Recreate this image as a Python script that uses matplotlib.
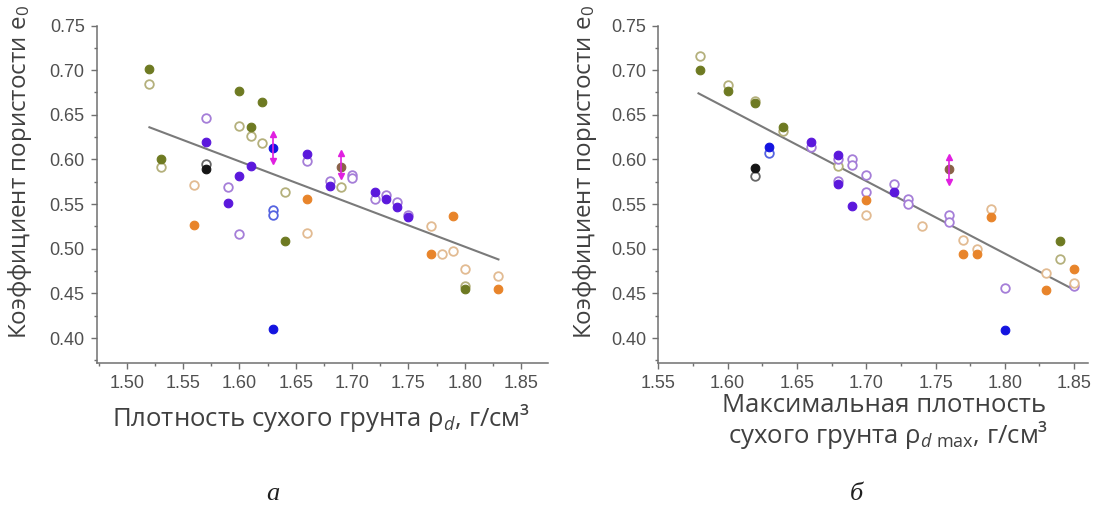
import matplotlib
matplotlib.use("Agg")
import matplotlib.pyplot as plt
from matplotlib.ticker import MultipleLocator, FormatStrFormatter

plt.rcParams['mathtext.fontset'] = 'custom'
plt.rcParams['mathtext.rm'] = 'Open Sans'
plt.rcParams['mathtext.it'] = 'Open Sans:italic'

# ---- panel a: dry density rho_d vs void ratio e0 ----
a_olive_f_x = [1.52, 1.53, 1.60, 1.61, 1.62, 1.64, 1.80]
a_olive_f_y = [0.701, 0.600, 0.677, 0.636, 0.664, 0.509, 0.455]
a_olive_o_x = [1.52, 1.53, 1.60, 1.61, 1.62, 1.64, 1.69, 1.80]
a_olive_o_y = [0.685, 0.592, 0.637, 0.626, 0.618, 0.564, 0.569, 0.458]
a_purple_f_x = [1.57, 1.59, 1.60, 1.61, 1.66, 1.68, 1.72, 1.73, 1.74, 1.75]
a_purple_f_y = [0.620, 0.551, 0.581, 0.593, 0.606, 0.570, 0.5635, 0.5555, 0.547, 0.535]
a_purple_o_x = [1.57, 1.59, 1.60, 1.66, 1.68, 1.70, 1.70, 1.72, 1.73, 1.74, 1.75]
a_purple_o_y = [0.646, 0.569, 0.516, 0.598, 0.576, 0.583, 0.579, 0.556, 0.560, 0.552, 0.538]
a_blue_f_x = [1.63, 1.63]
a_blue_f_y = [0.613, 0.410]
a_blue_o_x = [1.63, 1.63]
a_blue_o_y = [0.543, 0.538]
a_orange_f_x = [1.56, 1.66, 1.77, 1.79, 1.83]
a_orange_f_y = [0.527, 0.556, 0.494, 0.537, 0.455]
a_orange_o_x = [1.56, 1.66, 1.77, 1.78, 1.79, 1.80, 1.83]
a_orange_o_y = [0.571, 0.518, 0.526, 0.494, 0.498, 0.477, 0.470]
a_black_f_x = [1.57]
a_black_f_y = [0.589]
a_black_o_x = [1.57]
a_black_o_y = [0.595]
a_brown_x = [1.69]
a_brown_y = [0.592]
a_err_x = [1.63, 1.69]
a_err_y = [0.613, 0.594]
a_err_half = [0.015, 0.013]
a_trend_x = [1.52, 1.83]
a_trend_y = [0.636, 0.488]

# ---- panel b: maximum dry density rho_d max vs void ratio e0 ----
b_olive_f_x = [1.58, 1.60, 1.62, 1.64, 1.84]
b_olive_f_y = [0.700, 0.677, 0.663, 0.636, 0.509]
b_olive_o_x = [1.58, 1.60, 1.62, 1.64, 1.68, 1.84]
b_olive_o_y = [0.716, 0.683, 0.665, 0.632, 0.593, 0.488]
b_purple_f_x = [1.66, 1.68, 1.68, 1.69, 1.72]
b_purple_f_y = [0.620, 0.6055, 0.572, 0.548, 0.5635]
b_purple_o_x = [1.66, 1.68, 1.68, 1.69, 1.69, 1.70, 1.70, 1.72, 1.73, 1.73, 1.76, 1.76, 1.80, 1.85]
b_purple_o_y = [0.614, 0.600, 0.576, 0.600, 0.594, 0.583, 0.564, 0.573, 0.5555, 0.550, 0.5375, 0.530, 0.4555, 0.458]
b_blue_f_x = [1.63, 1.80]
b_blue_f_y = [0.614, 0.409]
b_blue_o_x = [1.63]
b_blue_o_y = [0.607]
b_orange_f_x = [1.70, 1.77, 1.78, 1.79, 1.83, 1.85]
b_orange_f_y = [0.555, 0.494, 0.494, 0.536, 0.454, 0.477]
b_orange_o_x = [1.70, 1.74, 1.77, 1.78, 1.79, 1.83, 1.85]
b_orange_o_y = [0.5375, 0.526, 0.510, 0.500, 0.544, 0.473, 0.462]
b_black_f_x = [1.62]
b_black_f_y = [0.590]
b_black_o_x = [1.62]
b_black_o_y = [0.581]
b_brown_x = [1.76]
b_brown_y = [0.589]
b_err_x = [1.76]
b_err_y = [0.589]
b_err_half = [0.014]
b_trend_x = [1.579, 1.85]
b_trend_y = [0.674, 0.454]

OLIVE_F, OLIVE_O = '#6e7a22', '#b4b07c'
PURPLE_F, PURPLE_O = '#5b18dc', '#a57ed8'
BLUE_F, BLUE_O = '#1414e0', '#5563e0'
ORANGE_F, ORANGE_O = '#e8842a', '#e2bb92'
BLACK_F, BLACK_O = '#151515', '#666666'
BROWN = '#8a6248'
MAGENTA = '#e020e0'
AXIS = '#707070'
TICKTXT = '#505050'

MS = 6.2


def filled(ax, x, y, c):
    ax.plot(x, y, 'o', ls='none', ms=MS, mfc=c, mec=c, mew=0.8, zorder=4)


def hollow(ax, x, y, c):
    ax.plot(x, y, 'o', ls='none', ms=MS, mfc='white', mec=c, mew=1.3, zorder=3)


def errbars(ax, x, y, h):
    lo = [v - d for v, d in zip(y, h)]
    hi = [v + d for v, d in zip(y, h)]
    ax.vlines(x, lo, hi, colors=MAGENTA, lw=1.2, zorder=5)
    ax.plot(x, hi, '^', ls='none', ms=4, color=MAGENTA, zorder=5)
    ax.plot(x, lo, 'v', ls='none', ms=4, color=MAGENTA, zorder=5)


def style(ax, xlim, xmaj):
    ax.set_xlim(*xlim)
    ax.set_ylim(0.372, 0.75)
    for s in ('top', 'right'):
        ax.spines[s].set_visible(False)
    for s in ('left', 'bottom'):
        ax.spines[s].set_color(AXIS)
        ax.spines[s].set_linewidth(1.1)
    ax.xaxis.set_minor_locator(MultipleLocator(0.025))
    ax.yaxis.set_minor_locator(MultipleLocator(0.025))
    ax.set_xticks(xmaj)
    ax.set_yticks([0.40, 0.45, 0.50, 0.55, 0.60, 0.65, 0.70, 0.75])
    ax.xaxis.set_major_formatter(FormatStrFormatter('%.2f'))
    ax.yaxis.set_major_formatter(FormatStrFormatter('%.2f'))
    ax.tick_params(which='major', direction='out', length=4.5, width=1.0,
                   color=AXIS, labelsize=13, labelcolor=TICKTXT, pad=4)
    ax.tick_params(which='minor', direction='out', length=2.5, width=1.0, color=AXIS)
    for lab in ax.get_xticklabels() + ax.get_yticklabels():
        lab.set_fontfamily('Liberation Sans')


def draw(ax, d):
    ax.plot(d['tx'], d['ty'], color='#7a7a7a', lw=1.5, zorder=2)
    for key, col, fn in [('olive_o', OLIVE_O, hollow), ('purple_o', PURPLE_O, hollow),
                         ('blue_o', BLUE_O, hollow), ('orange_o', ORANGE_O, hollow),
                         ('black_o', BLACK_O, hollow), ('olive_f', OLIVE_F, filled),
                         ('purple_f', PURPLE_F, filled), ('blue_f', BLUE_F, filled),
                         ('orange_f', ORANGE_F, filled), ('black_f', BLACK_F, filled),
                         ('brown', BROWN, filled)]:
        x, y = d[key]
        fn(ax, x, y, col)
    errbars(ax, *d['err'])


fig = plt.figure(figsize=(11.02, 5.11), dpi=100)
W, H = 1102, 511
ax1 = fig.add_axes([96.5 / W, 1 - 363 / H, (548 - 96.5) / W, (363 - 25.5) / H])
ax2 = fig.add_axes([658.3 / W, 1 - 363 / H, (1088 - 658.3) / W, (363 - 25.5) / H])

panel_a = {
    'tx': a_trend_x, 'ty': a_trend_y,
    'olive_f': (a_olive_f_x, a_olive_f_y), 'olive_o': (a_olive_o_x, a_olive_o_y),
    'purple_f': (a_purple_f_x, a_purple_f_y), 'purple_o': (a_purple_o_x, a_purple_o_y),
    'blue_f': (a_blue_f_x, a_blue_f_y), 'blue_o': (a_blue_o_x, a_blue_o_y),
    'orange_f': (a_orange_f_x, a_orange_f_y), 'orange_o': (a_orange_o_x, a_orange_o_y),
    'black_f': (a_black_f_x, a_black_f_y), 'black_o': (a_black_o_x, a_black_o_y),
    'brown': (a_brown_x, a_brown_y), 'err': (a_err_x, a_err_y, a_err_half),
}
panel_b = {
    'tx': b_trend_x, 'ty': b_trend_y,
    'olive_f': (b_olive_f_x, b_olive_f_y), 'olive_o': (b_olive_o_x, b_olive_o_y),
    'purple_f': (b_purple_f_x, b_purple_f_y), 'purple_o': (b_purple_o_x, b_purple_o_y),
    'blue_f': (b_blue_f_x, b_blue_f_y), 'blue_o': (b_blue_o_x, b_blue_o_y),
    'orange_f': (b_orange_f_x, b_orange_f_y), 'orange_o': (b_orange_o_x, b_orange_o_y),
    'black_f': (b_black_f_x, b_black_f_y), 'black_o': (b_black_o_x, b_black_o_y),
    'brown': (b_brown_x, b_brown_y), 'err': (b_err_x, b_err_y, b_err_half),
}

draw(ax1, panel_a)
draw(ax2, panel_b)
style(ax1, (1.473, 1.874), [1.50, 1.55, 1.60, 1.65, 1.70, 1.75, 1.80, 1.85])
style(ax2, (1.55, 1.86), [1.55, 1.60, 1.65, 1.70, 1.75, 1.80, 1.85])

YL = dict(fontfamily='Open Sans', fontsize=17.4, color='#404040')
XL = dict(fontfamily='Open Sans', fontsize=18.5, color='#404040')
ylab = 'Коэффициент пористости $\\mathrm{e}_0$'
fig.text(20 / W, 1 - 172 / H, ylab, rotation=90, ha='center', va='center', **YL)
fig.text(585 / W, 1 - 172 / H, ylab, rotation=90, ha='center', va='center', **YL)

fig.text(321 / W, 1 - 418 / H, 'Плотность сухого грунта $\\mathrm{\\rho}_{\\mathit{d}}$, г/см³',
         ha='center', va='center', **XL)
fig.text(884 / W, 1 - 406 / H, 'Максимальная плотность', ha='center', va='center', **XL)
fig.text(888 / W, 1 - 435 / H, 'сухого грунта $\\mathrm{\\rho}_{\\mathit{d}\\ \\mathrm{max}}$, г/см³',
         ha='center', va='center', **XL)

SUB = dict(fontfamily='Liberation Serif', fontstyle='italic', fontsize=19, color='#202020')
fig.text(273 / W, 1 - 494 / H, 'а', ha='center', va='center', **SUB)
fig.text(856 / W, 1 - 494 / H, 'б', ha='center', va='center', **SUB)

fig.savefig('out.png', dpi=100, facecolor='white')
